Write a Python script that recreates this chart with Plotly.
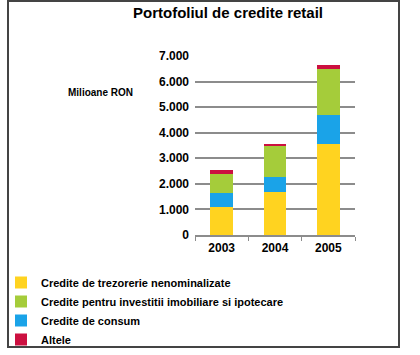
import plotly.graph_objects as go

years = ["2003", "2004", "2005"]
trezorerie = [1100, 1690, 3540]
imobiliare = [780, 1210, 1820]
consum = [525, 590, 1150]
altele = [130, 50, 130]
y_ticks = [0, 1000, 2000, 3000, 4000, 5000, 6000, 7000]

W, H = 420, 355
L, R, T, B = 195, 65, 56, 120
PW, PH = W - L - R, H - T - B

def px(x):
    return (x - L) / PW

def py(y):
    return (H - B - y) / PH

FONT = "Liberation Sans, Arial, sans-serif"

fig = go.Figure()
fig.add_trace(go.Bar(x=years, y=trezorerie, name="Credite de trezorerie nenominalizate",
                     marker=dict(color="#FFD320", line=dict(width=0))))
fig.add_trace(go.Bar(x=years, y=consum, name="Credite de consum",
                     marker=dict(color="#1AA3E8", line=dict(width=0))))
fig.add_trace(go.Bar(x=years, y=imobiliare, name="Credite pentru investitii imobiliare si ipotecare",
                     marker=dict(color="#A5CC3A", line=dict(width=0))))
fig.add_trace(go.Bar(x=years, y=altele, name="Altele",
                     marker=dict(color="#CC1040", line=dict(width=0))))

# legend order: yellow, green, blue, red
for tr, rank in zip(fig.data, [1, 3, 2, 4]):
    tr.legendrank = rank

fig.update_layout(
    width=W, height=H,
    margin=dict(l=L, r=R, t=T, b=B, pad=0, autoexpand=False),
    barmode="stack", bargap=0.57,
    paper_bgcolor="white", plot_bgcolor="white",
    separators=",.",
    font=dict(family=FONT, color="black"),
    title=dict(text="Portofoliul de credite retail", x=228 / W, xanchor="center",
               y=1 - 13 / H, yanchor="middle",
               font=dict(size=15, weight="bold", family=FONT, color="black")),
    xaxis=dict(showgrid=False, showline=True, linecolor="#8c8c8c", linewidth=1.5,
               ticks="outside", tickson="boundaries", ticklen=4, tickcolor="#8c8c8c",
               tickfont=dict(size=12, weight="bold"), ticklabelstandoff=1),
    yaxis=dict(range=[0, 7000], tickvals=y_ticks, tickformat=",d",
               showgrid=True, gridcolor="#8c8c8c", gridwidth=1.5, zeroline=False,
               showline=False, ticks="", tickfont=dict(size=12, weight="bold"),
               ticklabelstandoff=5),
    legend=dict(x=px(1), xanchor="left", y=py(268), yanchor="top",
                font=dict(size=11, weight="bold"), traceorder="normal",
                bgcolor="rgba(0,0,0,0)", itemclick=False),
    annotations=[dict(text="Milioane RON", xref="paper", yref="paper",
                      x=px(100), y=py(92), xanchor="center", yanchor="middle",
                      showarrow=False,
                      font=dict(size=10, weight="bold", family=FONT))],
    shapes=[dict(type="rect", xref="paper", yref="paper",
                 x0=px(8), x1=px(399), y0=py(347), y1=py(1),
                 line=dict(color="#444444", width=2), layer="below")],
)

fig.write_html("out.html")
